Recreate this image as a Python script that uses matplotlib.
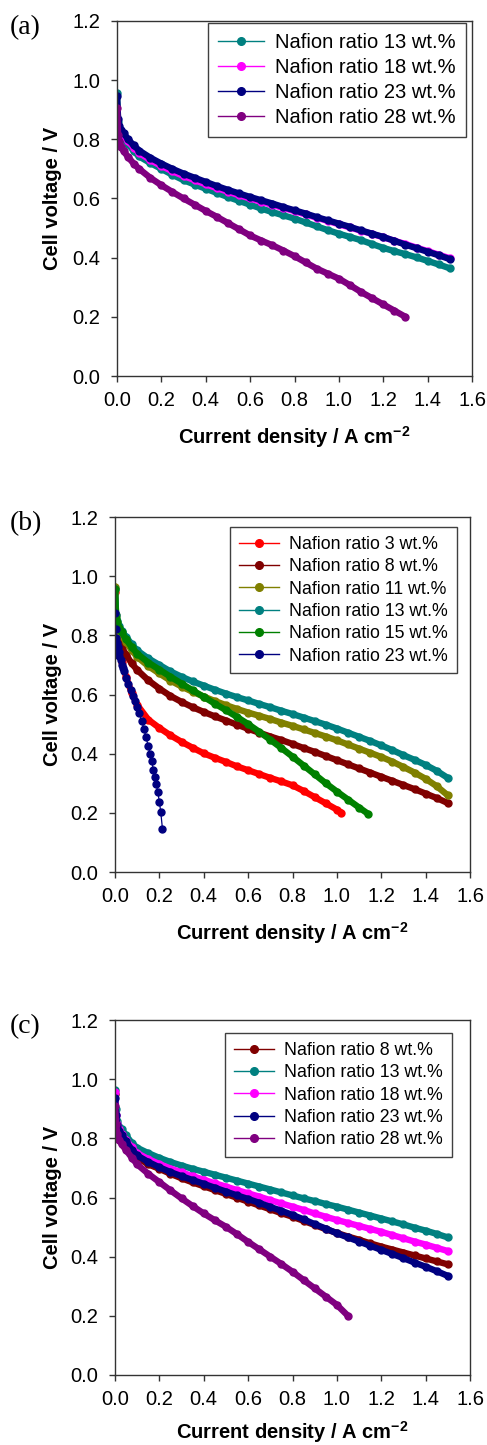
import matplotlib
matplotlib.use('Agg')
import matplotlib.pyplot as plt
from matplotlib.lines import Line2D
from matplotlib.ticker import FormatStrFormatter

plt.rcParams['font.family'] = ['Liberation Sans', 'DejaVu Sans']
plt.rcParams['mathtext.fontset'] = 'custom'
plt.rcParams['mathtext.rm'] = 'Liberation Sans:bold'
plt.rcParams['mathtext.bf'] = 'Liberation Sans:bold'

# ---------------- data ----------------
X_FULL = [0.0, 0.005, 0.01, 0.02, 0.03, 0.05, 0.075, 0.1, 0.15, 0.2, 0.25, 0.3,
          0.35, 0.4, 0.45, 0.5, 0.55, 0.6, 0.65, 0.7, 0.75, 0.8, 0.85, 0.9, 0.95,
          1.0, 1.05, 1.1, 1.15, 1.2, 1.25, 1.3, 1.35, 1.4, 1.45, 1.5]
X_TO_130 = X_FULL[:32]
X_TO_105 = X_FULL[:27]
X_TO_102 = X_FULL[:26] + [1.02]
X_TO_114 = X_FULL[:28] + [1.14]

# panel (a)
a_13 = [0.955, 0.86, 0.835, 0.815, 0.80, 0.785, 0.76, 0.742, 0.72, 0.70, 0.68, 0.662,
        0.647, 0.633, 0.619, 0.605, 0.592, 0.579, 0.566, 0.554, 0.543, 0.532, 0.519,
        0.506, 0.493, 0.481, 0.47, 0.459, 0.446, 0.433, 0.422, 0.412, 0.401, 0.389,
        0.377, 0.364]
a_18 = [0.865, 0.85, 0.835, 0.82, 0.81, 0.793, 0.772, 0.754, 0.73, 0.71, 0.692, 0.676,
        0.662, 0.648, 0.635, 0.623, 0.611, 0.60, 0.589, 0.578, 0.568, 0.557, 0.546,
        0.535, 0.524, 0.513, 0.502, 0.491, 0.48, 0.469, 0.457, 0.446, 0.434, 0.422,
        0.41, 0.398]
a_23 = [0.947, 0.87, 0.845, 0.83, 0.82, 0.80, 0.78, 0.762, 0.738, 0.718, 0.70, 0.684,
        0.67, 0.656, 0.642, 0.629, 0.617, 0.605, 0.594, 0.583, 0.571, 0.56, 0.549,
        0.537, 0.526, 0.515, 0.504, 0.492, 0.481, 0.47, 0.457, 0.444, 0.432, 0.42,
        0.408, 0.395]
a_28 = [0.905, 0.815, 0.795, 0.775, 0.76, 0.74, 0.718, 0.70, 0.67, 0.645, 0.622, 0.60,
        0.579, 0.558, 0.538, 0.517, 0.496, 0.475, 0.458, 0.442, 0.424, 0.405, 0.384,
        0.363, 0.346, 0.329, 0.307, 0.284, 0.263, 0.242, 0.221, 0.20]

# panel (b)
b_3 = [0.945, 0.79, 0.765, 0.735, 0.71, 0.66, 0.605, 0.565, 0.515, 0.487, 0.462, 0.44,
       0.42, 0.401, 0.386, 0.372, 0.357, 0.344, 0.331, 0.318, 0.306, 0.293, 0.274,
       0.253, 0.232, 0.211, 0.201]
b_8 = [0.87, 0.82, 0.795, 0.775, 0.76, 0.735, 0.705, 0.683, 0.648, 0.62, 0.595, 0.575,
       0.557, 0.541, 0.526, 0.512, 0.498, 0.484, 0.471, 0.458, 0.446, 0.433, 0.419,
       0.406, 0.392, 0.378, 0.364, 0.35, 0.336, 0.322, 0.308, 0.294, 0.28, 0.265,
       0.25, 0.233]
b_11 = [0.965, 0.87, 0.84, 0.815, 0.80, 0.777, 0.75, 0.727, 0.696, 0.671, 0.647, 0.627,
        0.609, 0.593, 0.578, 0.564, 0.551, 0.539, 0.528, 0.517, 0.505, 0.494, 0.482,
        0.47, 0.458, 0.445, 0.431, 0.417, 0.403, 0.389, 0.373, 0.355, 0.336, 0.315,
        0.29, 0.259]
b_13 = [0.955, 0.87, 0.85, 0.83, 0.815, 0.795, 0.77, 0.749, 0.722, 0.70, 0.678, 0.66,
        0.644, 0.63, 0.616, 0.603, 0.591, 0.58, 0.568, 0.557, 0.545, 0.534, 0.522,
        0.51, 0.498, 0.485, 0.471, 0.457, 0.443, 0.428, 0.412, 0.395, 0.379, 0.362,
        0.342, 0.318]
b_15 = [0.955, 0.86, 0.845, 0.825, 0.81, 0.787, 0.76, 0.738, 0.708, 0.684, 0.66, 0.637,
        0.614, 0.592, 0.569, 0.547, 0.524, 0.50, 0.474, 0.447, 0.419, 0.39, 0.36,
        0.33, 0.30, 0.272, 0.245, 0.218, 0.197]
b_23_x = [0.0, 0.003, 0.006, 0.009, 0.012, 0.016, 0.02, 0.025, 0.03, 0.035, 0.04, 0.05,
          0.06, 0.07, 0.08, 0.09, 0.10, 0.11, 0.12, 0.13, 0.14, 0.15, 0.158, 0.165,
          0.173, 0.18, 0.186, 0.193, 0.2, 0.206, 0.214]
b_23 = [0.877, 0.82, 0.79, 0.775, 0.76, 0.745, 0.73, 0.715, 0.70, 0.69, 0.678, 0.657,
        0.636, 0.615, 0.596, 0.578, 0.558, 0.536, 0.512, 0.485, 0.455, 0.425, 0.40,
        0.376, 0.345, 0.32, 0.297, 0.27, 0.237, 0.204, 0.145]

# panel (c)
c_8 = [0.95, 0.86, 0.84, 0.82, 0.805, 0.785, 0.757, 0.735, 0.712, 0.697, 0.68, 0.665,
       0.651, 0.638, 0.625, 0.612, 0.599, 0.586, 0.573, 0.56, 0.547, 0.535, 0.521,
       0.507, 0.493, 0.48, 0.468, 0.457, 0.445, 0.434, 0.424, 0.414, 0.404, 0.394,
       0.384, 0.374]
c_13 = [0.962, 0.90, 0.86, 0.84, 0.83, 0.81, 0.785, 0.768, 0.75, 0.734, 0.72, 0.708,
        0.697, 0.687, 0.677, 0.667, 0.657, 0.647, 0.637, 0.627, 0.617, 0.607, 0.597,
        0.588, 0.578, 0.569, 0.559, 0.549, 0.539, 0.529, 0.519, 0.509, 0.498, 0.488,
        0.477, 0.465]
c_18 = [0.955, 0.88, 0.85, 0.83, 0.815, 0.795, 0.77, 0.75, 0.73, 0.713, 0.698, 0.685,
        0.672, 0.66, 0.648, 0.637, 0.625, 0.614, 0.603, 0.591, 0.58, 0.569, 0.558,
        0.546, 0.535, 0.524, 0.514, 0.504, 0.494, 0.484, 0.473, 0.462, 0.451, 0.441,
        0.43, 0.419]
c_23 = [0.935, 0.88, 0.845, 0.825, 0.81, 0.79, 0.762, 0.742, 0.72, 0.702, 0.686, 0.672,
        0.659, 0.646, 0.633, 0.62, 0.607, 0.595, 0.582, 0.568, 0.555, 0.541, 0.526,
        0.51, 0.495, 0.479, 0.465, 0.451, 0.437, 0.423, 0.409, 0.395, 0.38, 0.366,
        0.351, 0.335]
c_28 = [0.91, 0.85, 0.815, 0.795, 0.78, 0.76, 0.735, 0.712, 0.68, 0.652, 0.624, 0.597,
        0.571, 0.546, 0.523, 0.501, 0.476, 0.45, 0.425, 0.40, 0.375, 0.349, 0.321,
        0.293, 0.265, 0.237, 0.20]

X_TICKS = [0.0, 0.2, 0.4, 0.6, 0.8, 1.0, 1.2, 1.4, 1.6]
Y_TICKS = [0.0, 0.2, 0.4, 0.6, 0.8, 1.0, 1.2]

TEAL, MAGENTA, NAVY, PURPLE = '#008080', '#FF00FF', '#000080', '#800080'
RED, DARKRED, OLIVE, GREEN = '#FF0000', '#800000', '#808000', '#008000'

panels = [
    dict(label='(a)', box=(117, 21, 472, 376), leg=(466, 23), legfs=14.5, xlab_off=61,
         series=[('Nafion ratio 13 wt.%', X_FULL, a_13, TEAL, True),
                 ('Nafion ratio 18 wt.%', X_FULL, a_18, MAGENTA, True),
                 ('Nafion ratio 23 wt.%', X_FULL, a_23, NAVY, True),
                 ('Nafion ratio 28 wt.%', X_TO_130, a_28, PURPLE, True)]),
    dict(label='(b)', box=(115, 517, 470, 872), leg=(457, 527), legfs=12.8, xlab_off=61,
         series=[('Nafion ratio 3 wt.%', X_TO_102, b_3, RED, True),
                 ('Nafion ratio 8 wt.%', X_FULL, b_8, DARKRED, True),
                 ('Nafion ratio 11 wt.%', X_FULL, b_11, OLIVE, True),
                 ('Nafion ratio 13 wt.%', X_FULL, b_13, TEAL, True),
                 ('Nafion ratio 15 wt.%', X_TO_114, b_15, GREEN, True),
                 ('Nafion ratio 23 wt.%', b_23_x, b_23, NAVY, False)]),
    dict(label='(c)', box=(115, 1020, 470, 1375), leg=(452, 1033), legfs=12.8, xlab_off=57,
         series=[('Nafion ratio 8 wt.%', X_FULL, c_8, DARKRED, True),
                 ('Nafion ratio 13 wt.%', X_FULL, c_13, TEAL, True),
                 ('Nafion ratio 18 wt.%', X_FULL, c_18, MAGENTA, True),
                 ('Nafion ratio 23 wt.%', X_FULL, c_23, NAVY, True),
                 ('Nafion ratio 28 wt.%', X_TO_105, c_28, PURPLE, True)]),
]

W, H = 487, 1445
fig = plt.figure(figsize=(W / 100, H / 100), dpi=100)

for p in panels:
    l, t, r, b = p['box']
    ax = fig.add_axes([l / W, 1 - b / H, (r - l) / W, (b - t) / H])
    handles = []
    for name, xs, ys, col, dense in p['series']:
        if dense:
            ax.plot(xs, ys, '-', color=col, lw=4.6, solid_capstyle='round',
                    solid_joinstyle='round', zorder=2)
            ax.plot(xs, ys, 'o', color=col, ms=5, mec=col, zorder=2)
        else:
            ax.plot(xs, ys, '-o', color=col, lw=0.9, ms=5, mec=col, zorder=2)
        handles.append(Line2D([], [], color=col, lw=1.0, marker='o', ms=5.5, mec=col,
                              label=name))
    ax.set_xlim(0, 1.6)
    ax.set_ylim(0, 1.2)
    ax.set_xticks(X_TICKS)
    ax.set_yticks(Y_TICKS)
    ax.xaxis.set_major_formatter(FormatStrFormatter('%.1f'))
    ax.yaxis.set_major_formatter(FormatStrFormatter('%.1f'))
    ax.tick_params(direction='out', length=4, width=1, labelsize=14.5, color='#333333')
    ax.tick_params(axis='x', pad=6.5)
    ax.tick_params(axis='y', pad=8)
    for s in ax.spines.values():
        s.set_linewidth(1.0)
        s.set_color('#333333')
    cx = (l + r) / 2
    cy = (t + b) / 2
    fig.text(cx / W, 1 - (b + p['xlab_off']) / H, r'Current density / A cm$^{\mathbf{-2}}$',
             ha='center', va='center', fontsize=14.5, fontweight='bold')
    fig.text(53 / W, 1 - cy / H, 'Cell voltage / V', ha='center', va='center',
             rotation=90, fontsize=14.5, fontweight='bold')
    fig.text(10 / W, 1 - (t + 7) / H, p['label'], ha='left', va='center',
             fontsize=20, family='Liberation Serif')
    lx, ly = p['leg']
    leg = ax.legend(handles=handles, loc='upper right',
                    bbox_to_anchor=(lx / W, 1 - ly / H), bbox_transform=fig.transFigure,
                    borderaxespad=0, fontsize=p['legfs'], frameon=True, fancybox=False,
                    framealpha=1, edgecolor='#404040', handlelength=2.25,
                    handletextpad=0.58, labelspacing=0.3, borderpad=0.5)
    leg.get_frame().set_linewidth(1.0)

fig.savefig('out.png', dpi=100)
